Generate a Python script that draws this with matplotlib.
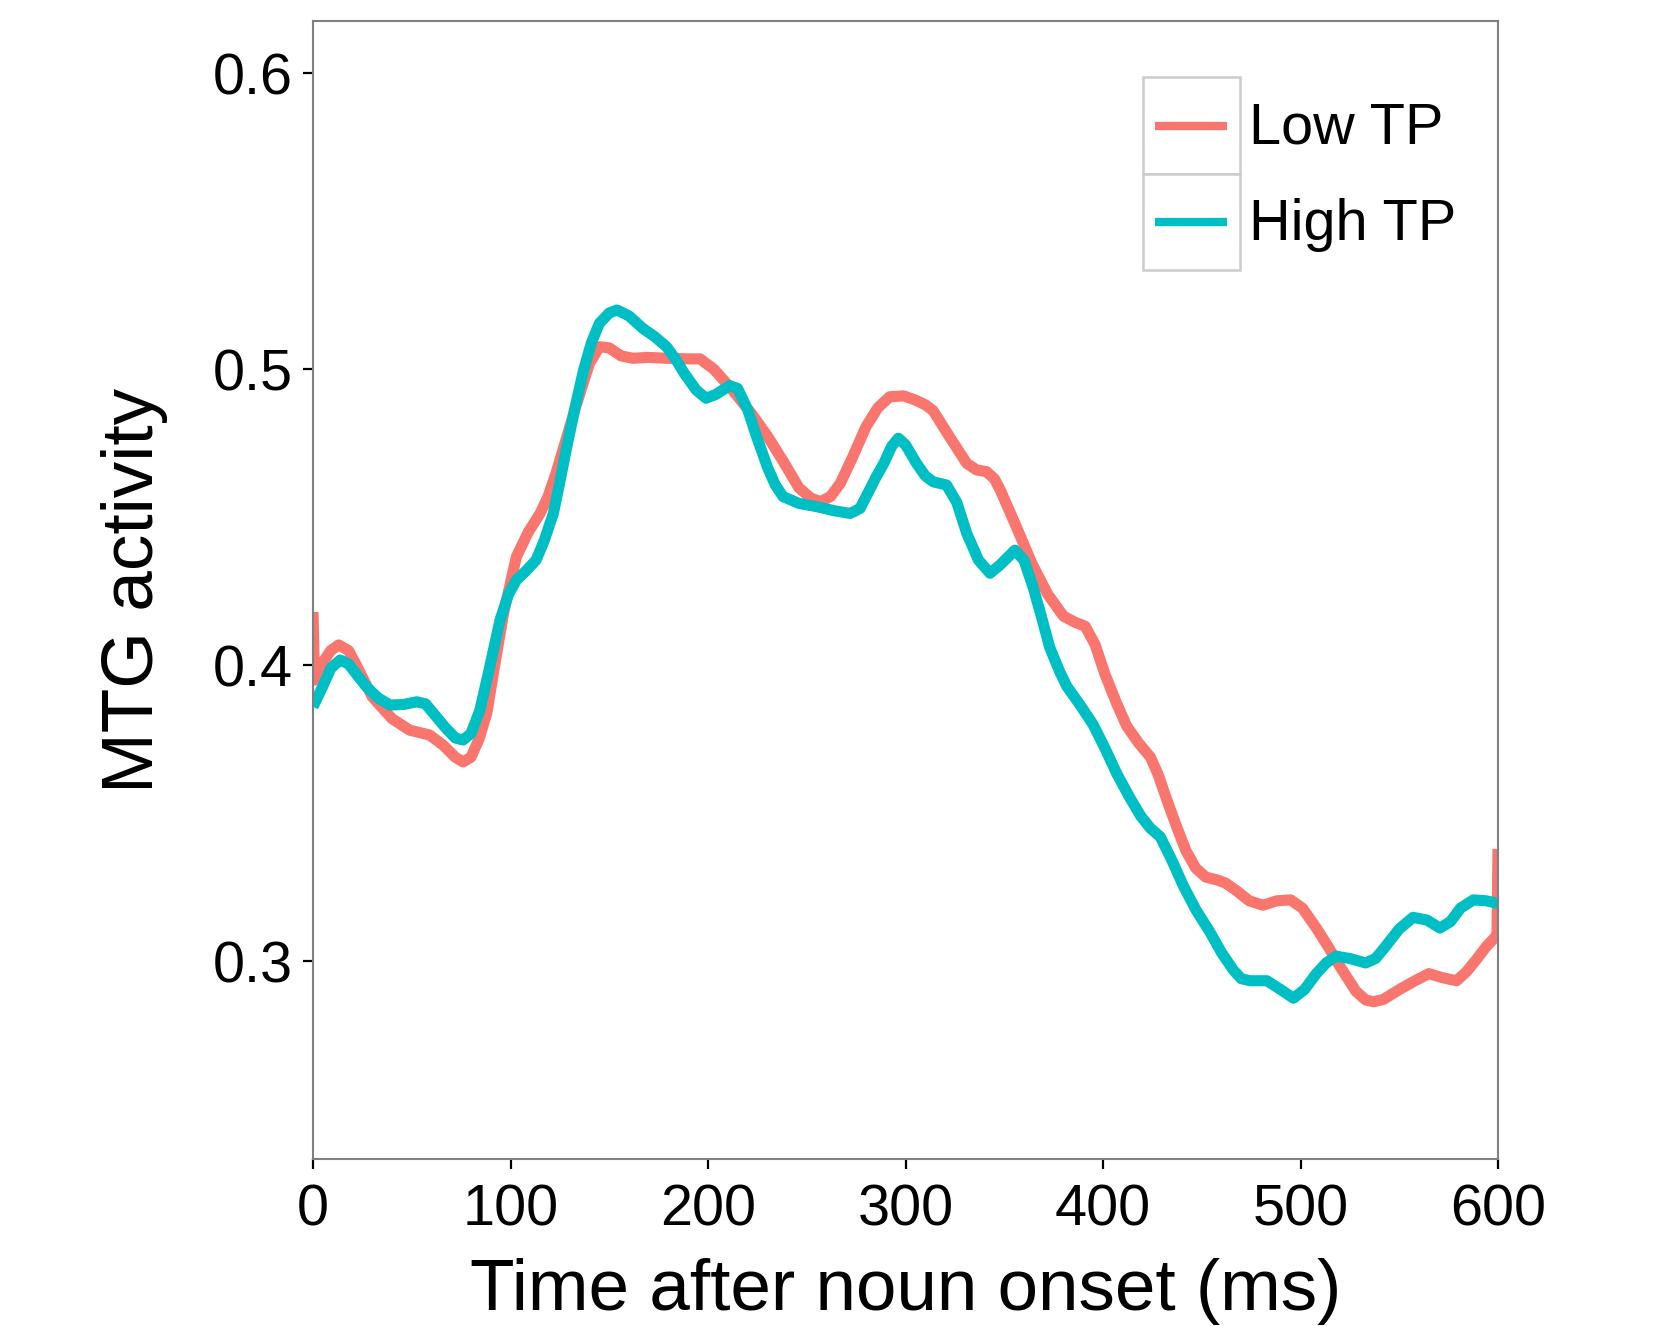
import matplotlib
matplotlib.use("Agg")
import matplotlib.pyplot as plt
from matplotlib.legend_handler import HandlerLine2D
from matplotlib.patches import Rectangle
from matplotlib.lines import Line2D

plt.rcParams['font.family'] = ['Liberation Sans', 'DejaVu Sans']

# ---------------- data ----------------
series_names = ["Low TP", "High TP"]
series_colors = ["#F8766D", "#00BFC4"]

low_t = [0, 0.8, 5, 9, 13, 18, 22, 30, 40, 49, 59, 66, 72, 76, 80, 84, 88, 92, 96.5,
         103, 109, 115, 119, 123, 128, 133, 140, 145, 150, 156, 162, 170, 179, 190, 196,
         203, 213, 222, 230, 238, 246, 252, 257, 262, 267, 273, 280, 286, 292, 299, 305,
         310, 314, 322, 331, 336, 341, 345, 348, 356, 364, 372, 380, 386, 391, 396, 401,
         407, 412, 418, 424, 428, 432, 437, 442, 447, 452, 458, 462, 468, 474, 481, 488,
         495, 501, 508, 514, 520, 528, 533, 537, 542, 550, 558, 565, 572, 579, 584, 589,
         594, 598, 599.5, 600]
low_v = [0.418, 0.395, 0.401, 0.405, 0.4069, 0.405, 0.400, 0.3894, 0.382, 0.3781, 0.3765,
         0.373, 0.369, 0.3674, 0.369, 0.375, 0.3838, 0.400, 0.4176,
         0.4367, 0.445, 0.4513, 0.457, 0.4648, 0.476, 0.4873, 0.502, 0.5076, 0.5072, 0.5045,
         0.5037, 0.5040, 0.5037, 0.5035, 0.5035,
         0.500, 0.4925, 0.485, 0.4775, 0.469, 0.460, 0.4565, 0.4553, 0.457, 0.4615, 0.470,
         0.4806, 0.487, 0.4907, 0.491, 0.4896,
         0.488, 0.486, 0.4775, 0.4682, 0.466, 0.4654, 0.463, 0.4592, 0.447, 0.4344, 0.424,
         0.4166, 0.4145, 0.4132, 0.407, 0.397,
         0.387, 0.3795, 0.3738, 0.369, 0.363, 0.3552, 0.346, 0.3374, 0.3315, 0.3285, 0.3275,
         0.3265, 0.3237, 0.3205, 0.319, 0.3205,
         0.3208, 0.318, 0.3113, 0.305, 0.2983, 0.290, 0.2870, 0.2864, 0.2872, 0.2905, 0.2935,
         0.2959, 0.2945, 0.2935, 0.2965, 0.3006,
         0.305, 0.3078, 0.309, 0.338]

high_t = [0, 5, 9, 13.7, 18, 22, 27, 33, 39, 46, 52.5, 57, 61, 67, 72, 76, 80, 84.5, 89,
          94.7, 99, 103, 108, 113, 117, 121.7, 125, 128.5, 133, 137, 141, 145, 150, 154,
          160, 167, 173, 179, 184, 188, 194, 199, 204, 211, 215, 220, 225, 230, 234, 238,
          246, 255, 264, 272, 277, 280, 285, 289, 293, 296.4, 300, 305.6, 310, 314, 320.8,
          326, 331, 337, 342.8, 348, 355.4, 360, 364.7, 369, 373, 378, 381.6, 388, 395, 401,
          407, 413, 419, 424, 429, 435, 440.7, 447, 454, 460, 466, 470, 474.4, 483, 490,
          496.4, 502, 508, 513, 518, 525, 533, 538, 542, 550, 557, 564, 570.6, 576, 581,
          587.5, 594, 600]
high_v = [0.386, 0.393, 0.399, 0.4018, 0.4005, 0.397, 0.3928, 0.389, 0.3866, 0.3868, 0.3877,
          0.387, 0.3838, 0.379, 0.3755, 0.3748, 0.377, 0.3849, 0.398,
          0.4153, 0.424, 0.4288, 0.432, 0.4356, 0.442, 0.4513, 0.462, 0.4738, 0.488, 0.4997,
          0.509, 0.5155, 0.519, 0.520,
          0.518, 0.5138, 0.511, 0.5076, 0.503, 0.4986, 0.493, 0.4902, 0.4915, 0.4945, 0.4935,
          0.4865, 0.4765, 0.4671, 0.461, 0.457,
          0.4547, 0.4536, 0.4522, 0.4513, 0.453, 0.4569, 0.4635, 0.4682, 0.474, 0.4767, 0.4745,
          0.4682, 0.464, 0.462, 0.4609,
          0.455, 0.4446, 0.4355, 0.4311, 0.434, 0.4389, 0.4355, 0.4262, 0.416, 0.4061, 0.398,
          0.393, 0.387, 0.380, 0.372,
          0.3634, 0.356, 0.3492, 0.345, 0.3421, 0.334, 0.3255, 0.3175, 0.3101, 0.303, 0.2971,
          0.2942, 0.2935, 0.2935, 0.2905,
          0.2876, 0.2905, 0.2959, 0.2995, 0.3018, 0.301, 0.2995, 0.301, 0.3042, 0.311, 0.3149,
          0.314, 0.3113, 0.3135, 0.318,
          0.3208, 0.3205, 0.3196]

x_ticks = [0, 100, 200, 300, 400, 500, 600]
y_ticks = [0.3, 0.4, 0.5, 0.6]
x_label = "Time after noun onset (ms)"
y_label = "MTG activity"

# ---------------- figure ----------------
W, H = 1662, 1326
fig = plt.figure(figsize=(W / 100, H / 100), dpi=100)
ax = fig.add_axes([313 / W, 1 - 1159 / H, (1498 - 313) / W, (1159 - 21) / H])

lines = []
for t, v, name, col in [(low_t, low_v, series_names[0], series_colors[0]),
                        (high_t, high_v, series_names[1], series_colors[1])]:
    ln, = ax.plot(t, v, color=col, lw=8.0, label=name, solid_joinstyle='round',
                  solid_capstyle='butt')
    lines.append(ln)

ax.set_xlim(0, 600)
ax.set_ylim(0.2333, 0.6176)
ax.set_xticks(x_ticks)
ax.set_xticklabels([str(v) for v in x_ticks])
ax.set_yticks(y_ticks)
ax.set_yticklabels([f"{v:.1f}" for v in y_ticks])

for s in ax.spines.values():
    s.set_color("#7F7F7F")
    s.set_linewidth(1.5)

ax.tick_params(axis='both', direction='out', length=7.5, width=1.6, color='black',
               labelsize=41.5, labelcolor='black')
ax.tick_params(axis='x', pad=10)
ax.tick_params(axis='y', pad=7)
ax.set_xlabel(x_label, fontsize=52.5, labelpad=15)
ax.set_ylabel(y_label, fontsize=52.5, labelpad=32)


class BoxedLine(HandlerLine2D):
    def create_artists(self, legend, orig_handle, xdescent, ydescent, width, height,
                       fontsize, trans):
        rect = Rectangle((-xdescent, -ydescent), width, height, facecolor='white',
                         edgecolor='#CCCCCC', lw=1.8, transform=trans)
        pad = width * 0.13
        y = -ydescent + height / 2
        line = Line2D([-xdescent + pad, -xdescent + width - pad], [y, y],
                      color=orig_handle.get_color(), lw=6, solid_capstyle='butt',
                      transform=trans)
        return [rect, line]


leg = ax.legend(handles=lines, loc='upper left', bbox_to_anchor=(0.700, 0.9505),
                frameon=False, fontsize=41.5, borderpad=0, borderaxespad=0,
                labelspacing=0, handlelength=1.69, handleheight=2.2,
                handletextpad=0.15,
                handler_map={Line2D: BoxedLine()})

fig.savefig("out.png", dpi=100, facecolor='white')
